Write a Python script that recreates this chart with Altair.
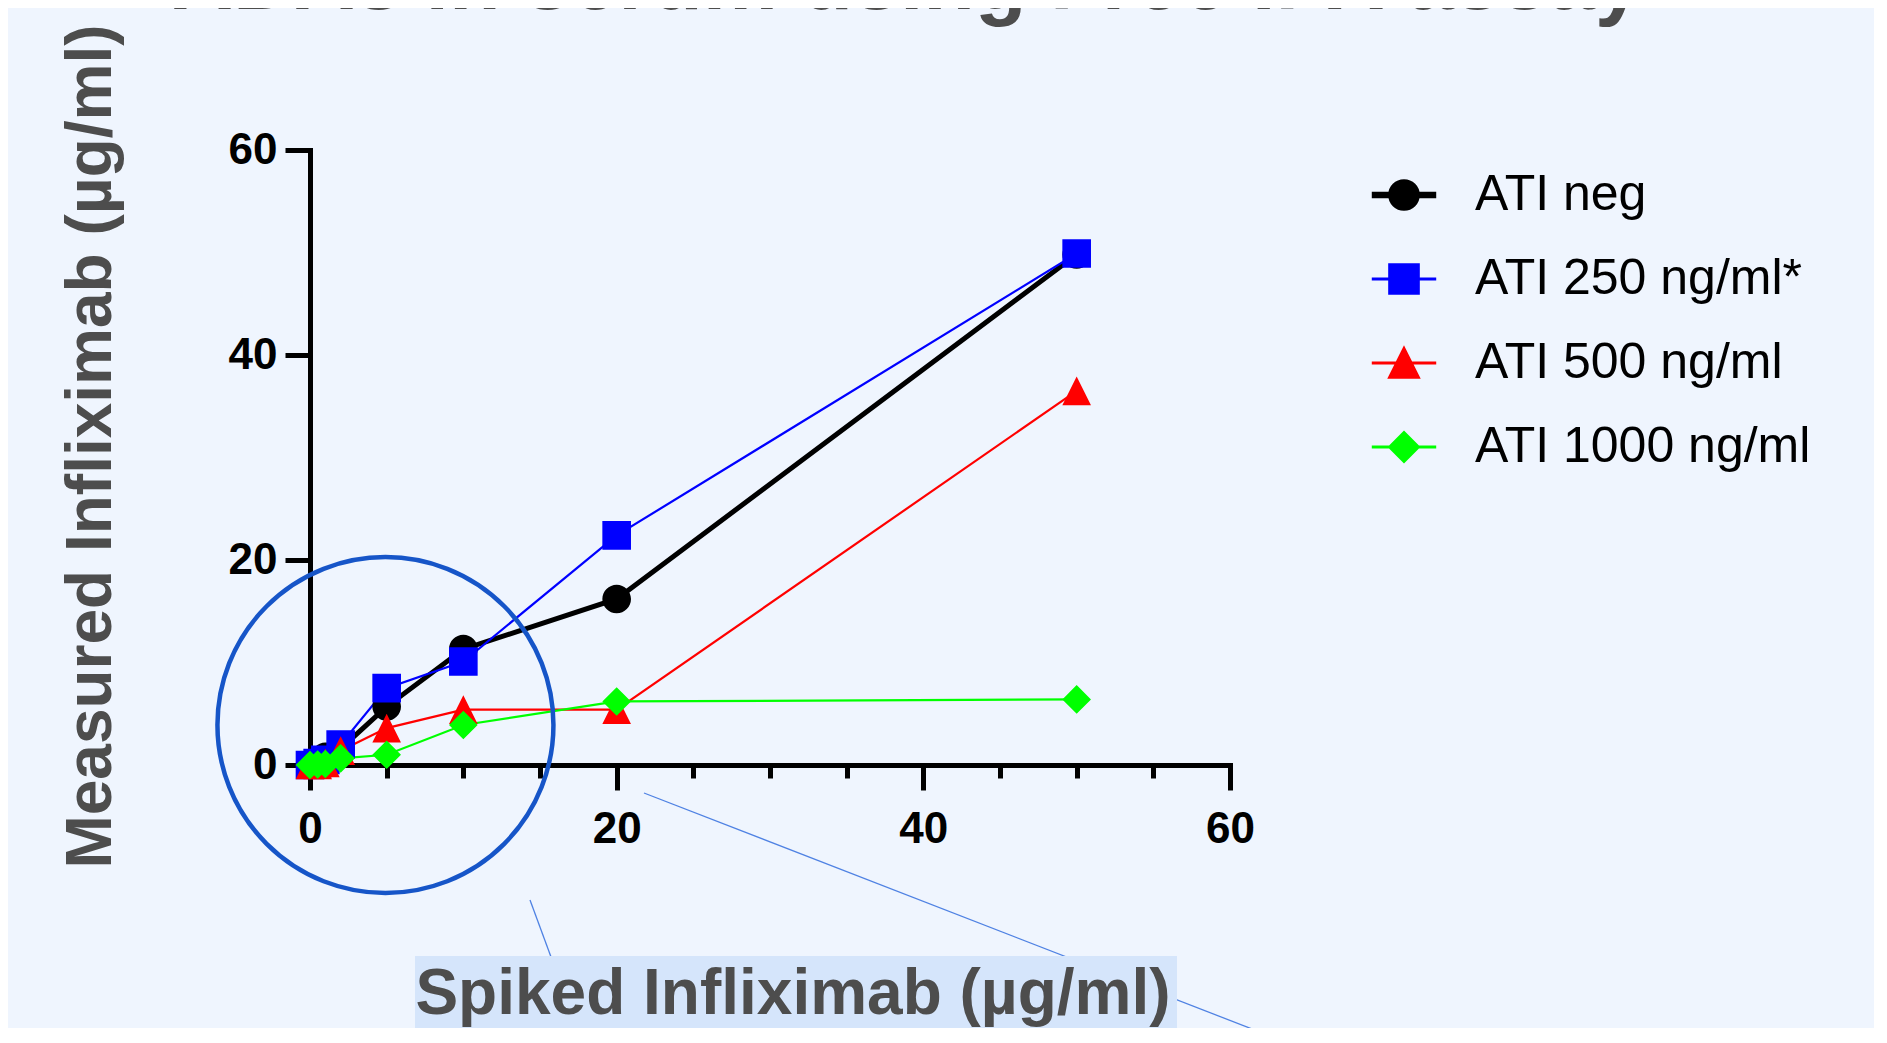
import altair as alt
import pandas as pd

# ---------------- data ----------------
series = ["ATI neg", "ATI 250 ng/ml*", "ATI 500 ng/ml", "ATI 1000 ng/ml"]
colors = ["#000000", "#0000ff", "#ff0000", "#00ff00"]
line_widths = [5, 2.2, 2.2, 2.2]

spiked = [0, 0.5, 1, 2, 5, 10, 20, 50]
ati_neg = [0, 0.4, 0.8, 1.6, 5.7, 11.3, 16.2, 49.8]
ati_250 = [0, 0.2, 0.5, 2.0, 7.5, 10.1, 22.4, 49.9]
ati_500 = [0, 0, 0.2, 1.4, 3.6, 5.4, 5.4, 36.5]
ati_1000 = [0, 0.05, 0.1, 0.65, 1.0, 3.9, 6.2, 6.4]
measured = [ati_neg, ati_250, ati_500, ati_1000]

x_ticks = [0, 20, 40, 60]
x_minor = list(range(0, 61, 5))
y_ticks = [0, 20, 40, 60]

title_text = "ADAs in serum using Free IFX assay"
x_title = "Spiked Infliximab (µg/ml)"
y_title = "Measured Infliximab (µg/ml)"

rows = []
for s, vals in zip(series, measured):
    for xv, yv in zip(spiked, vals):
        rows.append({"series": s, "spiked": xv, "measured": yv})
df = pd.DataFrame(rows)

# ---------------- styling ----------------
FONT = "Liberation Sans"
BG = "#eff5fe"
TITLE_GREY = "#4d4d4d"
MARKER_SIZE = 820

# marker paths (unit box) with a zero-area line used only by the legend symbols
shape_paths = [
    "M1,0A1,1,0,1,1,-1,0A1,1,0,1,1,1,0Z M-2.25,-0.12H2.25 M-2.25,0H2.25 M-2.25,0.12H2.25",
    "M-1,-1H1V1H-1Z M-2.25,0H2.25",
    "M0,-1L1,1H-1Z M-2.25,0H2.25",
    "M-1,0L0,-1L1,0L0,1Z M-2.25,0H2.25",
]

xs = alt.Scale(domain=[0, 60], nice=False, zero=False)
ys = alt.Scale(domain=[0, 60], nice=False, zero=False)
stroke_scale = alt.Scale(domain=series, range=colors)
fill_scale = alt.Scale(domain=series, range=colors)
shape_scale = alt.Scale(domain=series, range=shape_paths)

legend = alt.Legend(
    title=None, orient="none", legendX=1069, legendY=20, direction="vertical",
    labelFont=FONT, labelFontSize=50, labelColor="black", labelLimit=800,
    symbolSize=MARKER_SIZE, symbolStrokeWidth=3, labelOffset=46, rowPadding=34,
    padding=0, symbolOffset=0,
)

x_axis = alt.Axis(
    values=x_minor,
    labelExpr="datum.value % 20 == 0 ? datum.label : ''",
    tickSize={"condition": {"test": "datum.value % 20 == 0", "value": 25}, "value": 13},
    tickWidth=5, tickColor="black", tickCap="butt",
    domainWidth=5, domainColor="black", domainCap="square",
    labelFont=FONT, labelFontSize=44, labelFontWeight="bold", labelColor="black",
    labelPadding=17, labelOverlap=False, labelFlush=False, grid=False, title=None,
)
y_axis = alt.Axis(
    values=y_ticks, tickSize=25, tickWidth=5, tickColor="black", tickCap="butt",
    domainWidth=5, domainColor="black", domainCap="square",
    labelFont=FONT, labelFontSize=44, labelFontWeight="bold", labelColor="black",
    labelPadding=8, labelOverlap=False, labelFlush=False, grid=False,
    title=y_title, titleFont=FONT, titleFontSize=64, titleFontWeight="bold",
    titleColor=TITLE_GREY, titleX=-200, titleY=296, titleAngle=270,
    titleBaseline="alphabetic", titleAlign="center",
)

# ---------------- annotations (pixel positions in plot area) ----------------
ann_lines = pd.DataFrame({
    "x1": [220, 334], "y1": [750, 643],
    "x2": [279, 1022], "y2": [910, 910],
})
ann_box = pd.DataFrame({"x1": [105], "x2": [867], "y1": [806], "y2": [883]})
ann_circle = pd.DataFrame({"spiked": [4.92], "measured": [3.9]})

lines_layer = alt.Chart(ann_lines).mark_rule(color="#4f82e3", strokeWidth=1.3).encode(
    x=alt.X("x1:Q", scale=None), y=alt.Y("y1:Q", scale=None),
    x2="x2:Q", y2="y2:Q",
)
box_layer = alt.Chart(ann_box).mark_rect(color="#d5e5fb").encode(
    x=alt.X("x1:Q", scale=None), x2="x2:Q",
    y=alt.Y("y1:Q", scale=None), y2="y2:Q",
)
xtitle_layer = alt.Chart(pd.DataFrame({"t": [x_title]})).mark_text(
    font=FONT, fontSize=64, fontWeight="bold", color=TITLE_GREY,
    align="center", baseline="alphabetic",
).encode(text="t:N", x=alt.value(483), y=alt.value(864))

line_layers = []
for s, c, w in zip(series, colors, line_widths):
    line_layers.append(
        alt.Chart(df).transform_filter(alt.datum.series == s)
        .mark_line(color=c, strokeWidth=w, opacity=1)
        .encode(
            x=alt.X("spiked:Q", scale=xs, axis=x_axis),
            y=alt.Y("measured:Q", scale=ys, axis=y_axis),
        )
    )

data_points = alt.Chart(df).mark_point(
    filled=True, opacity=1, size=MARKER_SIZE, strokeWidth=0
).encode(
    x=alt.X("spiked:Q", scale=xs, axis=x_axis),
    y=alt.Y("measured:Q", scale=ys, axis=y_axis),
    fill=alt.Fill("series:N", scale=fill_scale, legend=legend),
    stroke=alt.Stroke("series:N", scale=stroke_scale, legend=legend),
    shape=alt.Shape("series:N", scale=shape_scale, legend=legend),
)

circle_layer = alt.Chart(ann_circle).mark_point(
    shape="circle", filled=False, size=112896, strokeWidth=4.5, color="#1655c8", opacity=1
).encode(
    x=alt.X("spiked:Q", scale=xs, axis=x_axis),
    y=alt.Y("measured:Q", scale=ys, axis=y_axis),
)

title_layer = alt.Chart(pd.DataFrame({"t": [title_text]})).mark_text(
    font=FONT, fontSize=84.5, fontWeight="bold", color=TITLE_GREY,
    align="center", baseline="alphabetic",
).encode(text="t:N", x=alt.value(597), y=alt.value(-141))

chart = alt.layer(
    lines_layer, box_layer, xtitle_layer, *line_layers, data_points, circle_layer, title_layer
).properties(
    width=920, height=615,
    padding={"left": 302, "top": 142, "right": 644, "bottom": 263},
    autosize=alt.AutoSizeParams(type="none"),
    background=BG,
).configure_view(stroke=None)

chart.save("out.html", embed_options={"renderer": "svg", "actions": False})
